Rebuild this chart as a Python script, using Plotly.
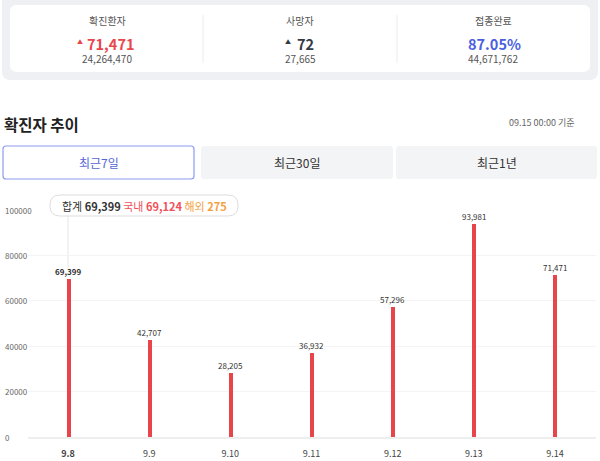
import plotly.graph_objects as go

W, H = 600, 461
FONT = "Noto Sans CJK KR, Noto Sans, sans-serif"

# ---- data ----
dates = ["9.8", "9.9", "9.10", "9.11", "9.12", "9.13", "9.14"]
cases = [69399, 42707, 28205, 36932, 57296, 93981, 71471]
y_ticks = [0, 20000, 40000, 60000, 80000, 100000]

summary_labels = ["확진환자", "사망자", "접종완료"]
summary_main = ["71,471", "72", "87.05%"]
summary_sub = ["24,264,470", "27,665", "44,671,762"]
summary_colors = ["#e8474c", "#333a45", "#4a5fe0"]

tabs = ["최근7일", "최근30일", "최근1년"]
tooltip_total, tooltip_domestic, tooltip_abroad = "69,399", "69,124", "275"


def px(x):
    return x / W


def py(y):
    return 1 - y / H


def rrect(x0, y0, x1, y1, r, fill, line=None, lw=0):
    X0, X1 = px(x0), px(x1)
    Y0, Y1 = py(y0), py(y1)
    rx, ry = r / W, r / H
    path = (f"M {X0+rx},{Y0} L {X1-rx},{Y0} Q {X1},{Y0} {X1},{Y0-ry} "
            f"L {X1},{Y1+ry} Q {X1},{Y1} {X1-rx},{Y1} L {X0+rx},{Y1} "
            f"Q {X0},{Y1} {X0},{Y1+ry} L {X0},{Y0-ry} Q {X0},{Y0} {X0+rx},{Y0} Z")
    return dict(type="path", path=path, xref="paper", yref="paper",
                fillcolor=fill, line=dict(color=line or fill, width=lw), layer="below")


xi = list(range(len(dates)))

fig = go.Figure()
fig.add_trace(go.Bar(
    x=xi, y=cases, width=0.05,
    marker=dict(color="#e8454b", line=dict(width=0)),
    hoverinfo="skip",
))

shapes = []
annotations = []

# top summary card
shapes.append(rrect(2, -20, 598, 80, 9, "#eef0f4"))
shapes.append(rrect(10, 5, 590, 72, 7, "#ffffff"))
for xd in (203, 397):
    shapes.append(dict(type="line", xref="paper", yref="paper",
                       x0=px(xd), x1=px(xd), y0=py(15), y1=py(63),
                       line=dict(color="#ececec", width=1)))
label_cx = [107, 300, 493]
main_cx = [111, 305, 494]
for i in range(3):
    annotations.append(dict(x=px(label_cx[i]), y=py(20), text=summary_labels[i], showarrow=False,
                            xref="paper", yref="paper", xanchor="center", yanchor="middle",
                            font=dict(size=10, color="#555", family=FONT)))
    annotations.append(dict(x=px(main_cx[i]), y=py(43),
                            text=f"<b>{summary_main[i]}</b>", showarrow=False,
                            xref="paper", yref="paper", xanchor="center", yanchor="middle",
                            font=dict(size=14.5, color=summary_colors[i], family=FONT)))
    annotations.append(dict(x=px(label_cx[i]), y=py(59), text=summary_sub[i], showarrow=False,
                            xref="paper", yref="paper", xanchor="center", yanchor="middle",
                            font=dict(size=10, color="#555", family=FONT)))
annotations.append(dict(x=px(80), y=py(41.5), text="▲", showarrow=False, xref="paper", yref="paper",
                        xanchor="center", yanchor="middle", font=dict(size=6, color="#e8474c")))
annotations.append(dict(x=px(288), y=py(41.5), text="▲", showarrow=False, xref="paper", yref="paper",
                        xanchor="center", yanchor="middle", font=dict(size=6, color="#333a45")))

# title row
annotations.append(dict(x=px(2), y=py(124), text="<b>확진자 추이</b>", showarrow=False,
                        xref="paper", yref="paper", xanchor="left", yanchor="middle",
                        font=dict(size=15.5, color="#222", family=FONT)))
annotations.append(dict(x=px(577), y=py(123), text="09.15 00:00 기준", showarrow=False,
                        xref="paper", yref="paper", xanchor="right", yanchor="middle",
                        font=dict(size=9, color="#666", family=FONT)))

# tabs
tab_boxes = [(3, 194), (201, 393), (396, 597)]
for i, (x0, x1) in enumerate(tab_boxes):
    if i == 0:
        shapes.append(rrect(x0, 146, x1, 179, 3, "#ffffff", "#8c9cf0", 1.2))
        col = "#5566d6"
    else:
        shapes.append(rrect(x0, 146, x1, 179, 3, "#f3f4f6"))
        col = "#333"
    annotations.append(dict(x=px((x0 + x1) / 2), y=py(162), text=tabs[i], showarrow=False,
                            xref="paper", yref="paper", xanchor="center", yanchor="middle",
                            font=dict(size=12, color=col, family=FONT)))

# y tick labels (left aligned)
for v in y_ticks:
    annotations.append(dict(x=px(3), y=v, xref="paper", yref="y", text=str(v), showarrow=False,
                            xanchor="left", yanchor="middle",
                            font=dict(size=8, color="#666", family=FONT)))

# bar value labels
for i, v in zip(xi, cases):
    txt = f"<b>{v:,}</b>" if i == 0 else f"{v:,}"
    annotations.append(dict(x=i, y=v, xref="x", yref="y", text=txt, showarrow=False,
                            xanchor="center", yanchor="bottom", yshift=0,
                            font=dict(size=8, color="#333", family=FONT)))

# tooltip
shapes.append(dict(type="line", xref="x", yref="y", x0=0, x1=0,
                   y0=cases[0] + 5000, y1=97800, line=dict(color="#e6e6e6", width=1), layer="below"))
shapes.append(rrect(50, 195, 238, 216, 10, "#ffffff", "#dddddd", 1))
shapes[-1]["layer"] = "above"
tip = (f"<span style='color:#333'>합계 <b>{tooltip_total}</b></span> "
       f"<span style='color:#f0505a'>국내 <b>{tooltip_domestic}</b></span> "
       f"<span style='color:#f5a040'>해외 <b>{tooltip_abroad}</b></span>")
annotations.append(dict(x=px(144), y=py(205.5), text=tip, showarrow=False, xref="paper", yref="paper",
                        xanchor="center", yanchor="middle", font=dict(size=11, family=FONT)))

ticktext = [f"<b>{d}</b>" if i == 0 else d for i, d in enumerate(dates)]

fig.update_layout(
    width=W, height=H,
    margin=dict(l=0, r=0, t=0, b=0, pad=0),
    paper_bgcolor="#ffffff", plot_bgcolor="#ffffff",
    showlegend=False,
    bargap=0,
    shapes=shapes, annotations=annotations,
    font=dict(family=FONT),
    xaxis=dict(domain=[27.5 / W, 595.5 / W],
               tickmode="array", tickvals=xi, ticktext=ticktext,
               tickfont=dict(size=9, color="#444", family=FONT),
               showgrid=False, showline=True, linecolor="#eeeeee", linewidth=2,
               ticks="", ticklabelstandoff=7, range=[-0.5, 6.5], fixedrange=True,
               zeroline=False),
    yaxis=dict(domain=[(H - 437) / H, (H - 210) / H], range=[0, 100000],
               tickvals=y_ticks, showticklabels=False, showgrid=True,
               gridcolor="#f4f4f4", gridwidth=1, zeroline=False, fixedrange=True),
)

fig.write_html(
    "out.html",
    config={"displayModeBar": False},
    post_script="document.body.style.margin='0';document.body.style.overflow='hidden';",
)
